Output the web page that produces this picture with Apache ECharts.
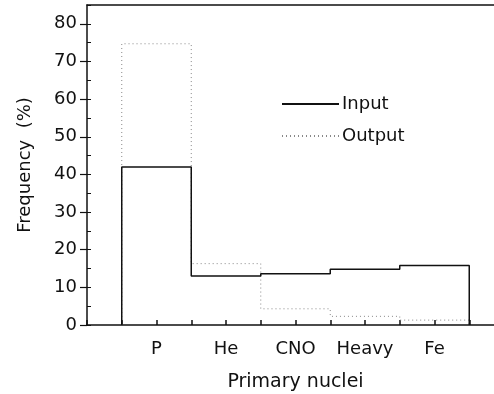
<!DOCTYPE html>
<html>
<head>
<meta charset="utf-8">
<script src="https://cdn.jsdelivr.net/npm/echarts@6/dist/echarts.min.js"></script>
<style>
  html, body { margin: 0; padding: 0; background: #fff; }
  #main { width: 494px; height: 394px; }
</style>
</head>
<body>
<div id="main"></div>
<script>
// primary nuclei groups, one bin each
var nuclei = ['P', 'He', 'CNO', 'Heavy', 'Fe'];
var inputFreq = [42, 13, 13.6, 14.8, 15.8];
var outputFreq = [74.7, 16.3, 4.3, 2.3, 1.3];
var yTicks = [0, 10, 20, 30, 40, 50, 60, 70, 80];

// histogram outline: bin i sits at x = i+1, edges at +-0.5
function stepLine(vals) {
    var pts = [[0.5, 0]];
    for (var i = 0; i < vals.length; i++) {
        pts.push([i + 0.5, vals[i]]);
        pts.push([i + 1.5, vals[i]]);
    }
    pts.push([vals.length + 0.5, 0]);
    return pts;
}

var font = 'DejaVu Sans';
var mychart = echarts.init(document.getElementById('main'));

var option = {
    backgroundColor: '#fff',
    animation: false,
    grid: { left: 87, right: -10, top: 5, bottom: 69, outerBoundsMode: 'none' },
    legend: {
        orient: 'vertical',
        left: 276,
        top: 90,
        itemWidth: 57,
        itemHeight: 16,
        itemGap: 14,
        itemStyle: { opacity: 0 },
        textStyle: { fontFamily: font, fontSize: 18, color: '#111', padding: [0, 0, 0, -2] },
        data: ['Input', 'Output']
    },
    xAxis: [
        {
            type: 'value',
            min: 0,
            max: 6,
            interval: 0.5,
            name: 'Primary nuclei',
            nameLocation: 'middle',
            nameGap: 48,
            nameTextStyle: { fontFamily: font, fontSize: 19, color: '#111' },
            splitLine: { show: false },
            axisLine: { lineStyle: { color: '#111', width: 1.5 } },
            axisTick: { inside: true, length: 5, lineStyle: { color: '#111', width: 1.5 } },
            axisLabel: {
                margin: 15,
                fontFamily: font,
                fontSize: 18,
                color: '#111',
                showMaxLabel: false,
                formatter: function (v) {
                    if (Number.isInteger(v) && v >= 1 && v <= nuclei.length) return nuclei[v - 1];
                    return '';
                }
            }
        },
        {
            type: 'value',
            position: 'top',
            min: 0,
            max: 6,
            axisLine: { show: true, onZero: false, lineStyle: { color: '#111', width: 1.5 } },
            axisTick: { show: false },
            axisLabel: { show: false },
            splitLine: { show: false }
        }
    ],
    yAxis: [
        {
            type: 'value',
            min: 0,
            max: 85,
            interval: 10,
            name: 'Frequency  (%)',
            nameLocation: 'middle',
            nameGap: 53,
            nameTextStyle: { fontFamily: font, fontSize: 18, color: '#111' },
            splitLine: { show: false },
            axisLine: { show: true, lineStyle: { color: '#111', width: 1.5 } },
            axisTick: { length: 7, lineStyle: { color: '#111', width: 1.2 } },
            axisLabel: {
                margin: 10,
                fontFamily: font,
                fontSize: 18,
                color: '#111',
                showMaxLabel: false,
                formatter: function (v) {
                    return yTicks.indexOf(v) >= 0 ? String(v) : '';
                }
            }
        },
        {
            type: 'value',
            position: 'left',
            min: 0,
            max: 85,
            interval: 5,
            splitLine: { show: false },
            axisLine: { show: false },
            axisTick: { inside: true, length: 4, lineStyle: { color: '#111', width: 1 } },
            axisLabel: { show: false }
        }
    ],
    series: [
        {
            name: 'Output',
            type: 'line',
            data: stepLine(outputFreq),
            symbol: 'none',
            z: 2,
            lineStyle: { color: '#888', width: 1, type: [1, 3] },
            itemStyle: { color: '#888' }
        },
        {
            name: 'Input',
            type: 'line',
            data: stepLine(inputFreq),
            symbol: 'none',
            z: 3,
            lineStyle: { color: '#111', width: 1.5 },
            itemStyle: { color: '#111' }
        }
    ]
};

mychart.setOption(option, true);
</script>
</body>
</html>
